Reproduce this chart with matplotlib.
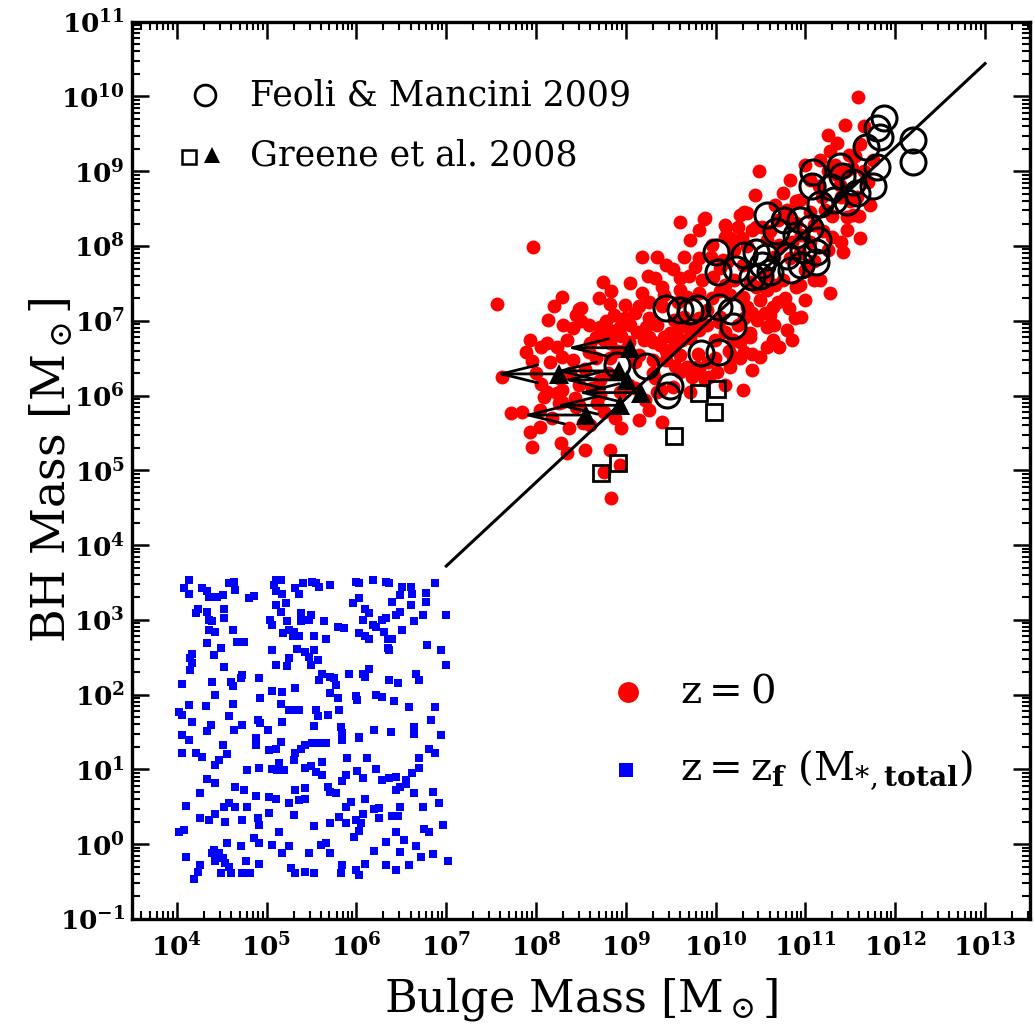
import numpy as np
import matplotlib
matplotlib.use('Agg')
import matplotlib.pyplot as plt
from matplotlib.ticker import FixedLocator, FixedFormatter, LogLocator, NullFormatter

plt.rcParams['font.family'] = ['DejaVu Serif']
plt.rcParams['mathtext.fontset'] = 'dejavuserif'

# ---------------- data (log10 of masses in solar units) ----------------
# simulated galaxies at z=0 : (log M_bulge, log M_BH)
red_z0 = [
(7.97,7.99),(7.57,7.23),(8.75,7.52),(8.83,7.40),(8.29,7.32),(8.20,7.20),(8.50,7.17),(8.82,7.23),(8.99,7.21),
(9.18,7.85),(9.35,7.85),(9.45,7.75),(9.52,7.69),(9.77,7.72),(10.10,8.28),(10.16,8.11),(9.18,7.37),(8.48,7.16),
(9.10,7.11),(8.13,7.01),(8.41,6.90),(8.59,6.94),(8.85,6.87),(8.93,6.92),(9.12,6.85),(9.23,6.92),(7.93,6.74),
(8.06,6.65),(8.23,6.65),(8.67,6.78),(7.89,6.58),(7.96,6.46),(7.62,6.25),(8.00,6.30),(8.12,6.05),(8.23,6.04),
(8.29,5.92),(7.72,5.77),(7.84,5.78),(7.93,5.51),(8.04,5.58),(8.37,5.57),(8.95,5.57),(9.15,5.67),(9.40,5.65),
(7.96,5.31),(8.28,5.37),(8.34,5.23),(8.54,5.27),(8.82,5.27),(8.93,5.07),(8.76,4.98),(8.84,4.63),(9.52,6.12),
(9.39,6.08),(9.79,6.38),(10.30,6.08),(10.41,6.34),(10.19,6.52),(8.45,7.08),(8.74,6.85),(9.30,6.72),(8.12,6.70),
(8.29,6.52),(8.41,6.48),(8.67,6.50),(8.09,5.98),(8.29,6.08),(8.26,5.90),(8.52,5.64),(9.87,8.36),(10.27,8.42),
(10.35,8.44),(10.41,8.21),(10.19,8.08),(10.29,8.11),(9.97,7.59),(8.87,7.08),(9.60,7.41),(9.68,7.32),(9.82,7.37),
(10.30,7.32),(10.35,7.19),(10.57,7.41),(10.64,7.19),(10.46,7.01),(10.57,6.92),(8.71,6.92),(9.43,6.78),(9.57,6.88),
(9.68,6.92),(9.82,6.88),(8.82,6.70),(8.99,6.61),(9.45,6.48),(9.60,6.54),(9.68,6.38),(9.82,6.34),(10.19,6.74),
(10.38,6.78),(10.57,6.65),(10.16,6.38),(11.58,9.99),(11.25,9.49),(11.35,9.38),(11.27,9.27),(11.61,9.37),
(10.48,9.00),(10.75,8.71),(11.05,8.88),(11.19,8.66),(11.52,9.04),(11.57,8.66),(10.32,8.46),(10.52,8.26),
(10.79,8.48),(10.90,8.31),(11.46,8.39),(11.53,8.42),(11.46,8.21),(11.61,8.11),(11.42,7.92),(11.30,8.12),
(10.10,8.12),(10.57,8.08),(10.94,7.91),(10.08,7.81),(9.88,8.38),(10.12,8.26),(11.27,7.37),(10.82,7.17),
(10.79,6.88),(10.85,6.74),(10.71,6.65),(10.27,6.50),(10.01,6.32),(9.93,6.25),(9.74,6.25),(10.49,6.52),
(10.64,6.74),(10.38,6.84),(9.30,6.48),(9.26,6.78),(9.49,6.84),(9.63,6.74),
(9.71,8.08),(9.96,8.01),(10.71,8.01),(9.82,7.84),(10.13,7.79),(10.83,7.84),(10.99,7.68),(9.32,7.57),(9.60,7.57),
(10.10,7.48),(10.38,7.52),(10.66,7.48),(10.94,7.48),(11.16,7.55),(9.26,7.25),(9.43,7.35),(9.96,7.31),(10.16,7.35),
(10.49,7.28),(10.77,7.31),(10.99,7.28),(8.99,7.04),(9.26,7.04),(9.54,7.01),(9.82,7.04),(10.04,6.99),(10.32,7.04),
(10.60,7.08),(10.88,7.04),(8.76,6.74),(9.04,6.72),(9.38,6.68),(9.71,6.77),(9.99,6.74),(10.27,6.72),(8.59,6.58),
(8.82,6.50),(9.15,6.54),(9.49,6.61),(9.99,6.50),(10.32,6.58),(8.26,6.24),(8.48,6.14),(8.71,6.21),(9.04,6.14),
(9.32,6.24),(9.60,6.32),(9.88,6.21),(10.10,6.14),(8.43,5.97),(8.71,6.01),(8.93,6.05),(9.21,5.94),(9.71,6.05),
(8.04,5.81),(8.48,5.88),(8.76,5.78),(9.26,5.81),(10.94,8.62),(10.83,8.88),(10.99,9.08),(11.38,8.82),(11.22,8.48),
(11.16,9.15),(11.49,9.22),(11.44,9.62),(9.60,8.32),(9.82,8.21),(11.72,8.55),(11.33,9.08),(11.10,8.28),(10.66,8.55),
(10.44,8.68),
(8.15,6.45),(8.35,6.75),(8.05,6.15),(8.38,6.30),(8.18,5.70),(8.45,5.85),(8.30,6.95),(8.55,6.35),(8.60,6.70),
(8.50,7.00),(8.62,6.10),(8.80,6.30),(8.68,5.90),(8.90,6.60),(8.78,7.00),(8.95,6.80),(8.60,5.60),(8.88,5.70),
(8.70,7.30),(9.05,6.95),(9.20,6.75),(9.10,6.45),(9.35,6.95),(9.40,7.20),(9.15,7.20),(9.30,6.30),(9.45,6.60),
(9.05,7.50),(9.25,7.60),(9.40,7.45),(9.10,6.10),(9.35,6.05),(9.55,6.70),(9.65,7.05),(9.75,6.90),(9.90,7.15),
(9.58,7.25),(9.85,7.55),(9.70,7.60),(9.92,6.45),(9.55,6.40),(9.80,6.55),(9.95,7.85),(9.65,7.85),(9.90,6.95),
(10.05,7.40),(10.20,7.55),(10.30,7.75),(10.10,6.85),(10.25,6.95),(10.40,7.10),(10.45,7.45),(10.05,7.05),
(10.35,8.00),(10.20,7.95),(10.40,6.55),(10.15,6.60),(10.45,8.25),(10.25,8.25),(10.05,7.70),(10.55,7.60),
(10.65,7.85),(10.75,7.55),(10.85,8.05),(10.95,8.15),(10.60,8.20),(10.70,7.25),(10.90,7.45),(10.55,7.10),
(10.80,8.40),(10.95,7.05),(10.65,6.95),(10.90,8.60),(10.70,8.35),(11.05,8.05),(11.20,8.20),(11.30,8.40),
(11.10,7.80),(11.25,7.95),(11.40,8.65),(11.15,8.80),(11.35,8.95),(11.05,8.45),(11.45,9.00),(11.25,9.00),
(11.10,7.55),(11.40,8.05),(11.55,9.20),(11.65,9.00),(11.70,8.85),(11.60,8.40),(11.50,8.60),(11.75,9.15),
(11.65,9.60),
]

# seeds at z = z_f : (log M_*,total, log M_BH)
blue_zf = [
(4.13,3.53),(4.08,3.42),(4.58,3.50),(4.64,3.51),(4.65,3.40),(5.10,3.53),(5.16,3.53),(5.08,3.47),(5.40,3.50),
(5.32,3.42),(5.51,3.51),(5.55,3.49),(5.58,3.44),(5.70,3.47),(5.99,3.51),(6.03,3.49),(6.18,3.53),(6.33,3.51),
(6.36,3.49),(6.51,3.44),(6.61,3.44),(6.87,3.50),
(4.13,3.35),(4.28,3.42),(4.34,3.38),(4.36,3.31),(4.45,3.31),(4.51,3.33),(4.80,3.29),(4.86,3.32),(5.10,3.38),
(5.17,3.35),(5.36,3.35),(6.77,3.36),(6.62,3.35),(6.48,3.33),(6.40,3.24),
(4.23,3.15),(4.21,3.09),(4.34,3.11),(4.52,3.15),(5.21,3.23),(5.10,3.20),(5.16,3.11),(5.96,3.22),(6.03,3.29),
(6.10,3.15),(6.14,3.09),(6.48,3.11),(6.61,3.20),(6.77,3.24),
(4.36,3.00),(4.39,2.98),(4.52,3.02),(5.04,3.00),(5.06,2.93),(5.23,2.98),(5.38,3.09),(5.49,3.06),(5.38,2.98),
(5.47,3.00),(5.64,2.98),(6.07,3.00),(6.18,2.93),(6.29,3.00),(6.33,3.02),(6.44,3.06),(6.64,2.98),(6.74,3.06),
(7.00,3.06),
(4.36,2.86),(4.43,2.84),(4.62,2.86),(5.18,2.82),(5.25,2.86),(5.31,2.84),(5.29,2.78),(5.36,2.78),(5.53,2.78),
(5.66,2.75),(5.79,2.91),(5.86,2.89),(6.03,2.82),(6.10,2.78),(6.14,2.75),(6.22,2.91),(6.31,2.84),(6.35,2.75),
(6.40,2.75),(6.51,2.86),
(4.34,2.69),(4.67,2.71),(4.75,2.71),(4.49,2.62),(4.41,2.53),(4.17,2.55),(5.06,2.60),(5.34,2.61),(5.43,2.57),
(5.53,2.60),(5.47,2.51),(5.57,2.46),(6.35,2.62),(6.36,2.60),(6.79,2.66),(6.94,2.60),
(4.15,2.49),(4.17,2.42),(4.15,2.33),(4.52,2.37),(5.10,2.40),(5.23,2.38),(5.25,2.49),(5.49,2.40),(7.00,2.40),
(4.06,2.14),(4.39,2.17),(4.60,2.17),(4.62,2.11),(4.71,2.22),(4.73,2.26),(4.91,2.22),(5.62,2.28),(5.58,2.20),
(5.70,2.24),(5.75,2.22),(5.77,2.13),(5.92,2.28),(6.07,2.28),(6.14,2.35),(6.09,2.24),(6.36,2.20),(6.46,2.16),
(6.66,2.28),(6.70,2.20),
(4.43,2.00),(5.06,2.05),(5.17,2.04),(5.32,2.09),(5.70,2.02),(5.79,1.96),(5.99,1.98),(6.01,1.93),(6.22,1.99),
(6.29,1.97),(6.42,1.92),(4.13,1.86),(4.32,1.85),(4.62,1.88),(4.93,1.95),
(4.02,1.77),(4.06,1.73),(4.17,1.64),(4.38,1.59),(4.34,1.51),(4.58,1.71),(4.73,1.59),(4.64,1.53),(4.90,1.66),
(4.93,1.62),(5.01,1.53),(5.16,1.88),(5.25,1.79),(5.31,1.79),(5.36,1.80),(5.17,1.64),(5.55,1.79),(5.57,1.71),
(5.68,1.73),(5.81,1.79),(5.53,1.58),(5.83,1.57),(5.84,1.49),(6.03,1.44),(6.20,1.53),(6.38,1.50),(6.59,1.84),
(6.64,1.57),(6.64,1.48),(6.83,1.66),(6.87,1.84),(6.94,1.46),
(4.06,1.46),(4.13,1.39),(4.06,1.22),(4.21,1.22),(4.28,1.17),(4.51,1.33),(4.56,1.21),(4.47,1.13),(4.43,1.06),
(4.88,1.42),(4.88,1.33),(5.03,1.26),(5.10,1.28),(5.16,1.37),(5.31,1.13),(5.32,1.22),(5.38,1.28),(5.43,1.33),
(5.51,1.35),(5.58,1.35),(5.66,1.35),(5.84,1.39),(6.03,1.42),(5.90,1.15),(6.12,1.15),(6.70,1.15),(6.81,1.28),
(6.87,1.22),
(4.78,0.99),(4.91,1.02),(5.06,1.00),(5.12,0.99),(5.19,0.99),(5.14,1.08),(5.43,1.02),(5.49,1.04),(5.62,1.10),
(5.55,0.97),(5.62,0.93),(5.84,0.84),(5.88,0.93),(6.01,0.98),(6.07,0.88),(6.22,1.00),(6.29,0.86),(6.36,0.88),
(6.44,0.90),(6.55,0.86),(6.62,0.95),(6.70,1.02),(4.34,0.87),(4.43,0.82),
(4.26,0.68),(4.65,0.76),(4.75,0.73),(4.88,0.65),(5.03,0.63),(5.10,0.61),(5.32,0.73),(5.43,0.75),(5.36,0.59),
(5.43,0.60),(5.68,0.77),(5.71,0.70),(5.77,0.69),(5.94,0.57),(6.10,0.61),(6.44,0.73),(6.49,0.77),(6.55,0.81),
(6.64,0.69),(6.85,0.70),(6.92,0.55),
(4.10,0.51),(4.26,0.35),(4.36,0.32),(4.43,0.41),(4.52,0.50),(4.58,0.55),(4.65,0.50),(4.78,0.50),(4.54,0.30),
(4.73,0.32),(4.90,0.35),(4.91,0.26),(5.03,0.42),(5.25,0.55),(5.31,0.39),(5.53,0.24),(5.70,0.28),(5.81,0.36),
(5.88,0.50),(5.88,0.28),(5.99,0.33),(6.05,0.28),(6.07,0.41),(6.20,0.47),(6.25,0.48),(6.25,0.35),(6.40,0.38),
(6.46,0.38),(6.49,0.50),(6.74,0.50),(6.96,0.26),(4.02,0.17),(4.08,0.19),
(5.14,0.17),(4.86,0.08),(4.91,0.01),(4.56,0.01),(4.71,-0.03),(4.41,-0.08),(4.47,-0.12),(5.06,-0.01),(5.17,-0.12),
(5.25,-0.02),(5.47,-0.12),(5.60,-0.01),(5.66,0.01),(5.71,-0.12),(5.97,0.10),(6.03,0.18),(6.33,0.03),(6.44,0.17),
(6.53,0.06),(6.66,-0.02),(6.75,0.21),(6.81,0.17),(6.85,-0.13),(6.20,-0.09),(6.49,-0.10),
(4.10,-0.17),(4.26,-0.28),(4.23,-0.37),(4.19,-0.46),(4.39,-0.12),(4.43,-0.23),(4.51,-0.19),(4.54,-0.25),
(4.58,-0.30),(4.49,-0.39),(4.60,-0.39),(4.77,-0.23),(4.73,-0.39),(4.82,-0.38),(4.91,-0.26),(5.27,-0.32),
(5.32,-0.39),(5.43,-0.37),(5.53,-0.38),(5.84,-0.28),(5.83,-0.39),(5.99,-0.34),(6.03,-0.41),(6.10,-0.26),
(6.33,-0.28),(6.44,-0.34),(6.59,-0.28),(6.72,-0.17),(7.02,-0.23),
]

# Feoli & Mancini 2009 (open circles)
feoli = [
(11.88,9.71),(11.80,9.58),(11.83,9.46),(11.68,9.32),(12.20,9.42),(12.20,9.12),(11.80,9.06),(11.75,8.80),
(11.08,8.99),(11.07,8.80),(11.39,9.07),(11.41,8.94),(11.28,8.79),(11.53,8.86),(11.57,8.71),(11.32,8.62),
(11.16,8.56),(11.46,8.59),(10.57,8.42),(10.76,8.35),(10.94,8.35),(11.05,8.24),(10.67,8.20),(10.90,8.15),
(11.14,8.08),(11.12,7.92),(10.00,7.92),(10.03,7.65),(10.32,7.88),(10.45,7.92),(10.56,7.85),(10.79,7.87),
(10.97,7.95),(11.12,7.79),(10.84,7.68),(10.52,7.75),(10.23,7.69),(10.60,7.65),(10.49,7.60),(9.45,7.17),
(9.60,7.15),(9.71,7.13),(9.79,7.17),(10.04,7.19),(10.17,7.13),(10.19,6.93),(9.84,6.57),(10.04,6.58),
(9.23,6.40),(8.90,6.41),(9.49,6.13),(9.46,6.01),(10.95,7.75),(10.41,7.59),
]

# Greene et al. 2008: open squares and upper limits (triangles)
greene_sq = [(8.72,4.97),(8.91,5.10),(9.54,5.46),(9.82,6.04),(10.01,6.09),(9.98,5.78)]
greene_tri = [(9.05,6.64),(8.26,6.29),(8.92,6.33),(9.01,6.21),(9.17,6.04),(8.93,5.87),(8.56,5.74)]
greene_tri_limit_end = [8.34, 7.55, 8.21, 8.30, 8.46, 8.22, 7.85]

# Haering & Rix (2004) relation end points
line_logx = [7.0, 13.0]
line_logy = [3.72, 10.44]

x_tick_exp = [4, 5, 6, 7, 8, 9, 10, 11, 12, 13]
y_tick_exp = [-1, 0, 1, 2, 3, 4, 5, 6, 7, 8, 9, 10, 11]
x_tick_labels = [r'$\mathbf{10^{%d}}$' % e for e in x_tick_exp]
y_tick_labels = [r'$\mathbf{10^{%d}}$' % e for e in y_tick_exp]

# ---------------- figure ----------------
fig = plt.figure(figsize=(10.35, 10.29), dpi=100)
ax = fig.add_axes([0.1275, 0.1069, 0.8676, 0.8720])
ax.set_xscale('log')
ax.set_yscale('log')
ax.set_xlim(10**3.5, 10**13.5)
ax.set_ylim(1e-1, 1e11)

def unpack(pts):
    a = np.array(pts, dtype=float)
    return 10**a[:, 0], 10**a[:, 1]

rx, ry = unpack(red_z0)
ax.plot(rx, ry, 'o', color='#ff0000', ms=10, mew=0, zorder=1)
bx, by = unpack(blue_zf)
ax.plot(bx, by, 's', color='#0000ff', ms=6.3, mew=0, zorder=1)

ax.plot(10**np.array(line_logx), 10**np.array(line_logy), '-', color='k', lw=2.2, zorder=2)

sx, sy = unpack(greene_sq)
ax.plot(sx, sy, 's', mfc='none', mec='k', ms=11.5, mew=2.0, zorder=3)

tx, ty = unpack(greene_tri)
for x0, y0, xe in zip(tx, ty, greene_tri_limit_end):
    ax.annotate('', xy=(10**xe, y0), xytext=(x0, y0), xycoords='data',
                arrowprops=dict(arrowstyle='->,head_length=1.3,head_width=0.32',
                                lw=2.0, color='k', mutation_scale=20,
                                shrinkA=0, shrinkB=0), zorder=3)
ax.plot(tx, ty, '^', color='k', ms=14.5, mew=0, zorder=4)

fx, fy = unpack(feoli)
ax.plot(fx, fy, 'o', mfc='none', mec='k', ms=18, mew=2.2, zorder=5)

# ---------------- axes styling ----------------
ax.xaxis.set_major_locator(FixedLocator([10.0**e for e in x_tick_exp]))
ax.xaxis.set_major_formatter(FixedFormatter(x_tick_labels))
ax.yaxis.set_major_locator(FixedLocator([10.0**e for e in y_tick_exp]))
ax.yaxis.set_major_formatter(FixedFormatter(y_tick_labels))
for axis in (ax.xaxis, ax.yaxis):
    axis.set_minor_locator(LogLocator(base=10, subs=np.arange(2, 10), numticks=60))
    axis.set_minor_formatter(NullFormatter())

ax.tick_params(which='both', direction='in', top=True, right=True, color='k')
ax.tick_params(which='major', length=12, width=1.8)
ax.tick_params(which='minor', length=6, width=1.5)
ax.tick_params(axis='x', which='major', labelsize=19, pad=10)
ax.tick_params(axis='y', which='major', labelsize=19, pad=5)
for sp in ax.spines.values():
    sp.set_linewidth(2.4)

ax.set_xlabel(r'Bulge Mass [M$_\odot$]', fontsize=32)
ax.set_ylabel(r'BH Mass [M$_\odot$]', fontsize=33)
ax.xaxis.set_label_coords(0.5, -0.062)
ax.yaxis.set_label_coords(-0.062, 0.5)

# ---------------- legends ----------------
T = ax.transAxes
ax.plot([0.0813], [0.918], 'o', mfc='none', mec='k', ms=15, mew=2.0, transform=T, clip_on=False)
ax.text(0.131, 0.918, 'Feoli & Mancini 2009', transform=T, fontsize=25, va='center', ha='left')
ax.plot([0.0635], [0.849], 's', mfc='none', mec='k', ms=10, mew=1.8, transform=T, clip_on=False)
ax.plot([0.089], [0.851], '^', color='k', ms=12, mew=0, transform=T, clip_on=False)
ax.text(0.131, 0.851, 'Greene et al. 2008', transform=T, fontsize=25, va='center', ha='left')

ax.plot([0.552], [0.253], 'o', color='#ff0000', ms=15, mew=0, transform=T, clip_on=False)
ax.text(0.610, 0.253, r'z$=$0', transform=T, fontsize=29, va='center', ha='left')
ax.plot([0.550], [0.166], 's', color='#0000ff', ms=10.5, mew=0, transform=T, clip_on=False)
ax.text(0.610, 0.166, r'z$=$z$_\mathbf{f}$ (M$_{*,\mathbf{total}}$)', transform=T, fontsize=29,
        va='center', ha='left')

fig.savefig('out.png', dpi=100)
